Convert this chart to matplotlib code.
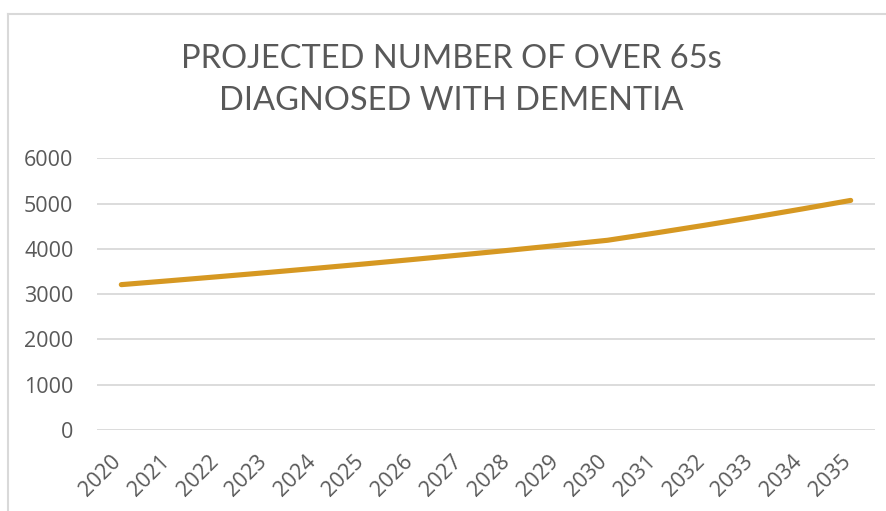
import matplotlib
matplotlib.use("Agg")
import matplotlib.pyplot as plt
import matplotlib.transforms as mtransforms
from matplotlib.lines import Line2D

# projected number of over 65s diagnosed with dementia
years = ["2020", "2021", "2022", "2023", "2024", "2025", "2026", "2027",
         "2028", "2029", "2030", "2031", "2032", "2033", "2034", "2035"]
cases = [3210, 3297, 3386, 3477, 3571, 3667, 3766, 3868,
         3972, 4079, 4190, 4353, 4522, 4698, 4881, 5070]
y_ticks = [0, 1000, 2000, 3000, 4000, 5000, 6000]

title = "PROJECTED NUMBER OF OVER 65s\nDIAGNOSED WITH DEMENTIA"
txt_col = "#595959"
grid_col = "#D9D9D9"
line_col = "#D69822"

fig = plt.figure(figsize=(8.87, 5.11), dpi=100)
ax = fig.add_axes([97 / 887, 1 - 430 / 511, (875 - 97) / 887, (430 - 158.3) / 511])

x = list(range(len(years)))
ax.plot(x, cases, color=line_col, lw=3.7, solid_capstyle="round",
        solid_joinstyle="round", zorder=3)

ax.set_xlim(-0.5, len(years) - 0.5)
ax.set_ylim(0, 6000)
ax.set_yticks(y_ticks)
ax.set_yticklabels([str(v) for v in y_ticks])
ax.set_xticks(x)
ax.set_xticklabels(years)
ax.yaxis.grid(True, color=grid_col, lw=1.3)
ax.set_axisbelow(True)
for s in ax.spines.values():
    s.set_visible(False)
ax.tick_params(axis="both", length=0, colors=txt_col, labelsize=15.5)
ax.tick_params(axis="y", pad=17)
ax.tick_params(axis="x", pad=15)
for lab in ax.get_yticklabels() + ax.get_xticklabels():
    lab.set_fontfamily("Open Sans")
off = mtransforms.ScaledTranslation(4 / 100, 0, fig.dpi_scale_trans)
for lab in ax.get_xticklabels():
    lab.set_rotation(45)
    lab.set_ha("right")
    lab.set_va("top")
    lab.set_transform(lab.get_transform() + off)

fig.text(451 / 887, 1 - 80 / 511, title, ha="center", va="center",
         fontsize=23.5, color=txt_col, family="Lato", weight="normal",
         linespacing=1.5)

# chart border (left and top edges visible)
fig.add_artist(Line2D([8.5 / 887, 8.5 / 887], [0, 1 - 14 / 511],
                      transform=fig.transFigure, color=grid_col, lw=1.5))
fig.add_artist(Line2D([8.5 / 887, 1], [1 - 14 / 511, 1 - 14 / 511],
                      transform=fig.transFigure, color=grid_col, lw=1.5))

fig.savefig("out.png", dpi=100, facecolor="white")
